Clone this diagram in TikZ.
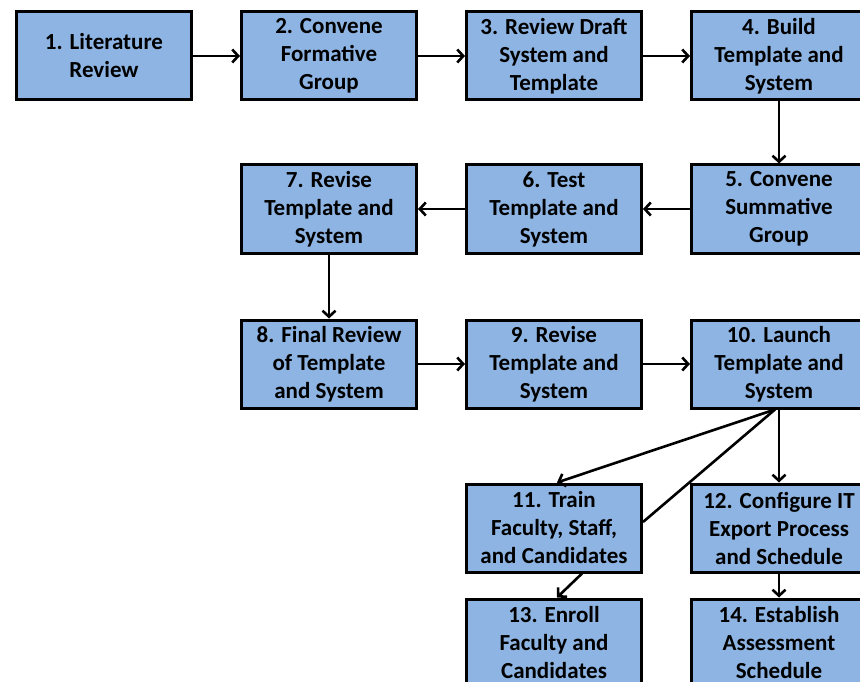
\documentclass[tikz,border=0pt]{standalone}
\usepackage{fontspec}
\setmainfont{Carlito}
\usepackage{xcolor}
\usetikzlibrary{positioning,arrows.meta}
\definecolor{stagefill}{RGB}{141,180,226}
\begin{document}
\begin{tikzpicture}[x=1pt,y=-1pt,
		stage/.style={draw=black, fill=stagefill, line width=3pt, inner sep=0pt,
			minimum width=175pt, minimum height=88pt, align=center,
			font=\fontsize{23}{28}\selectfont\bfseries},
		flow/.style={line width=2.6pt, -{Straight Barb[length=6pt,width=13pt,line width=2.6pt]}},
		link/.style={line width=2.6pt}]
	\useasboundingbox (0,0) rectangle (860,682);
	\clip (0,0) rectangle (860,682);
	\node[stage] (t1) at (104,56) {1. Literature\\Review};
	\node[stage, right=47pt of t1] (t2) {2. Convene\\Formative\\Group};
	\node[stage, right=47pt of t2] (t3) {3. Review Draft\\System and\\Template};
	\node[stage, right=47pt of t3] (t4) {4. Build\\Template and\\System};
	\node[stage, below=62pt of t4] (t5) {5. Convene\\Summative\\Group};
	\node[stage, left=47pt of t5] (t6) {6. Test\\Template and\\System};
	\node[stage, left=47pt of t6] (t7) {7. Revise\\Template and\\System};
	\node[stage, below=64pt of t7] (t8) {8. Final Review\\of Template\\and System};
	\node[stage, right=47pt of t8] (t9) {9. Revise\\Template and\\System};
	\node[stage, right=47pt of t9] (t10) {10. Launch\\Template and\\System};
	\node[stage, below=73pt of t9] (t11) {11. Train\\Faculty, Staff,\\and Candidates};
	\node[stage, below=73pt of t10] (t12) {12. Configure IT\\Export Process\\and Schedule};
	\node[stage, below=24pt of t11] (t13) {13. Enroll\\Faculty and\\Candidates};
	\node[stage, below=24pt of t12] (t14) {14. Establish\\Assessment\\Schedule};
	\draw[flow] (t1) -- (t2);
	\draw[flow] (t2) -- (t3);
	\draw[flow] (t3) -- (t4);
	\draw[flow] (t4) -- (t5);
	\draw[flow] (t5) -- (t6);
	\draw[flow] (t6) -- (t7);
	\draw[flow] (t7) -- (t8);
	\draw[flow] (t8) -- (t9);
	\draw[flow] (t9) -- (t10);
	\draw[flow] (t10) -- (t12);
	\draw[flow] ([xshift=-4pt]t10.south) -- ([xshift=3pt]t11.north);
	\draw[link] ([yshift=6pt]t11.east) -- ([xshift=-4pt]t10.south);
	\draw[flow] ([xshift=28pt]t11.south) -- ([xshift=3pt]t13.north);
	\draw[flow] (t12) -- (t14);
\end{tikzpicture}
\end{document}
